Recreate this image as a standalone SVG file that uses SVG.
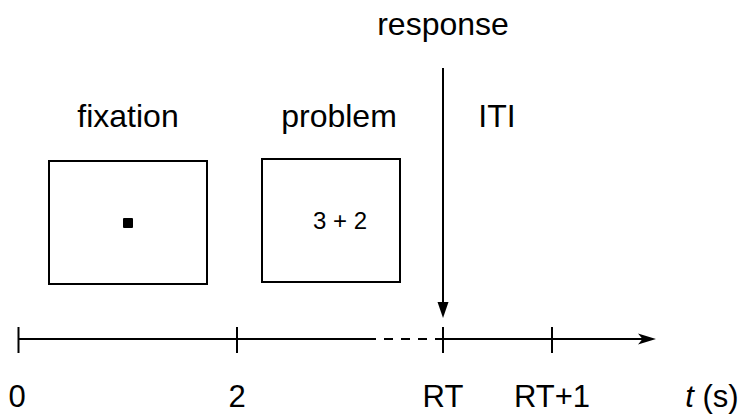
<svg xmlns="http://www.w3.org/2000/svg" width="739" height="418" viewBox="0 0 739 418">
  <defs>
    <style>
      .lbl { font-family: "Liberation Sans", Arial, sans-serif; font-size: 32px; fill: #000; text-anchor: middle; }
      .tick { font-family: "Liberation Sans", Arial, sans-serif; font-size: 31px; fill: #000; text-anchor: middle; }
      .screen { fill: #fff; stroke: #000; stroke-width: 2; }
      .axis { stroke: #000; stroke-width: 2; fill: none; }
    </style>
  </defs>
  <rect width="739" height="418" fill="#fff"/>

  <!-- trial phases -->
  <g id="fixation">
    <text class="lbl" x="128" y="127">fixation</text>
    <rect class="screen" x="49" y="161" width="158" height="123"/>
    <rect x="123" y="218" width="10" height="10" rx="1" fill="#000"/>
  </g>
  <g id="problem">
    <text class="lbl" x="339" y="127">problem</text>
    <rect class="screen" x="262" y="159" width="138" height="123"/>
    <text x="340" y="229" text-anchor="middle" font-family="Liberation Sans, Arial, sans-serif" font-size="24">3 + 2</text>
  </g>
  <g id="iti">
    <text class="lbl" x="497" y="127">ITI</text>
  </g>
  <g id="response">
    <text class="lbl" x="443" y="35">response</text>
  </g>

  <!-- time axis, ticks and response marker -->
  <g id="connectors">
    <line class="axis" x1="443" y1="68" x2="443" y2="304"/>
    <polygon points="437.5,302 448.5,302 443,318" fill="#000"/>

    <line class="axis" x1="18" y1="339" x2="367" y2="339"/>
    <line class="axis" x1="367" y1="339" x2="436" y2="339" stroke-dasharray="9 8"/>
    <line class="axis" x1="436" y1="339" x2="645" y2="339"/>
    <polygon points="656,339 638,333.5 642.5,339 638,344.5" fill="#000"/>

    <line class="axis" x1="18.5" y1="327" x2="18.5" y2="353"/>
    <line class="axis" x1="237" y1="327" x2="237" y2="353"/>
    <line class="axis" x1="443" y1="327" x2="443" y2="353"/>
    <line class="axis" x1="552" y1="327" x2="552" y2="353"/>
  </g>

  <g id="axis-labels">
    <text class="tick" x="17" y="407">0</text>
    <text class="tick" x="237" y="407">2</text>
    <text class="tick" x="443" y="407">RT</text>
    <text class="tick" x="552" y="407">RT+1</text>
    <text class="tick" x="712" y="407"><tspan font-style="italic">t</tspan> (s)</text>
  </g>
</svg>
